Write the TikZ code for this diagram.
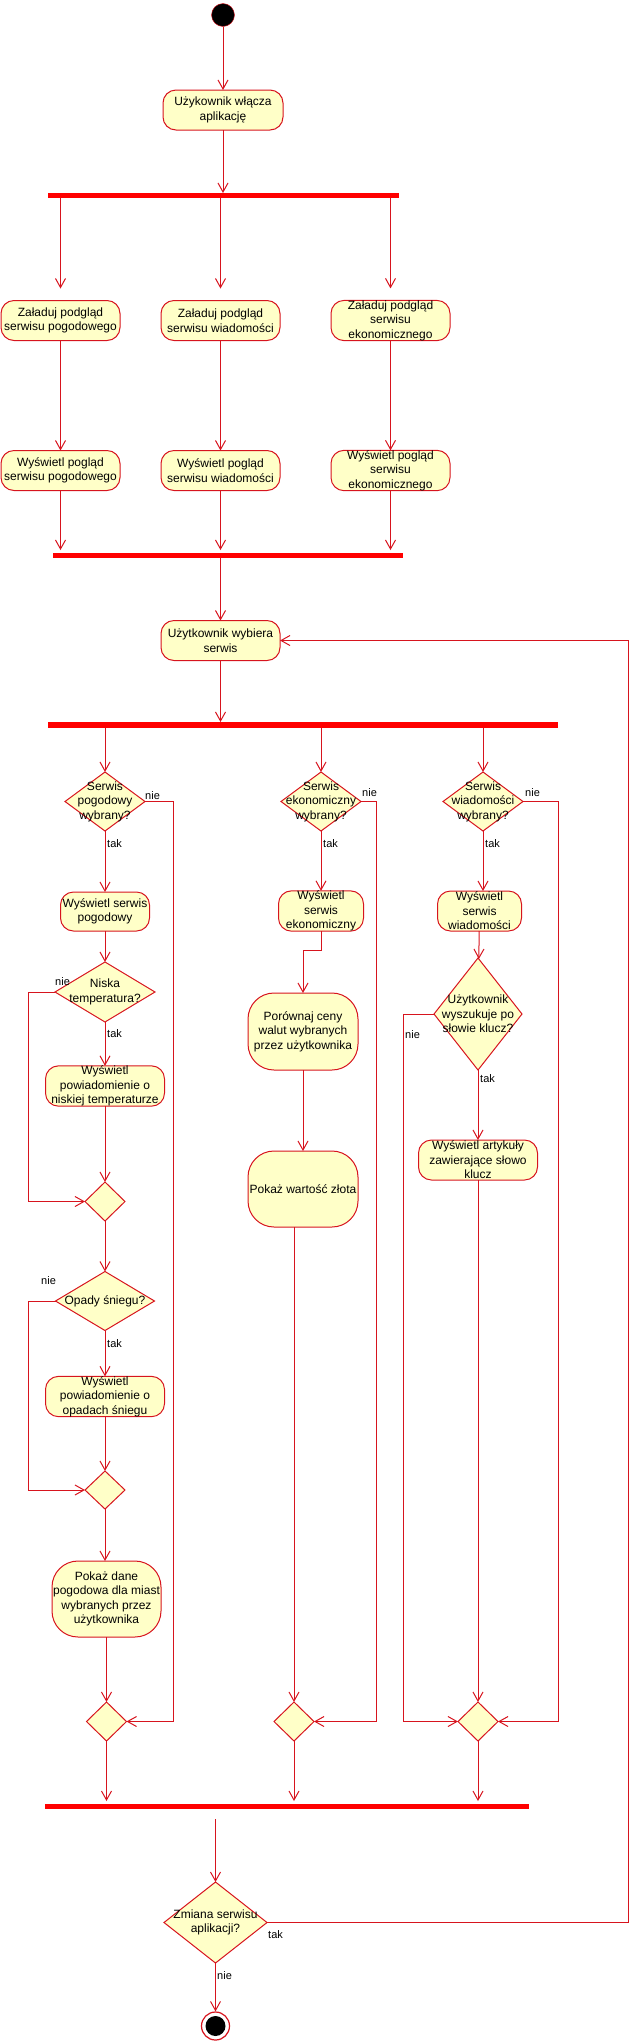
\documentclass[tikz,border=0pt]{standalone}
\usepackage{fontspec}
\setmainfont{Liberation Sans}
\usetikzlibrary{shapes.geometric,arrows.meta}
\definecolor{umlred}{RGB}{215,20,30}
\definecolor{umlfill}{RGB}{255,255,200}
\definecolor{barred}{RGB}{255,0,0}

\begin{document}
\begin{tikzpicture}[x=1pt,y=-1pt,
    act/.style={draw=umlred,line width=1pt,fill=umlfill,rounded corners=13pt,align=center,inner sep=0pt,outer sep=0pt,
      minimum height=40pt,font=\fontsize{12}{14.5}\selectfont},
    bigact/.style={act,rounded corners=26pt},
    dec/.style={diamond,draw=umlred,line width=1pt,fill=umlfill,inner sep=0pt,outer sep=0pt},
    dtext/.style={align=center,inner sep=0pt,font=\fontsize{12}{14.5}\selectfont},
    bar/.style={fill=barred,inner sep=0pt,outer sep=0pt},
    flow/.style={draw=umlred,line width=1pt,-{Straight Barb[length=9pt,width=10pt]}},
    lbl/.style={anchor=west,inner sep=0pt,font=\fontsize{11}{13}\selectfont},
    start/.style={circle,draw=umlred,fill=black,minimum size=23pt,inner sep=0pt},
    finish/.style={circle,draw=umlred,line width=1.2pt,fill=white,minimum size=28pt,inner sep=0pt,
      path picture={\fill[black] (path picture bounding box.center) circle (10pt);}}]
    \useasboundingbox (0,0) rectangle (639,2043);

    % start and loading of previews
    \node[start] (start) at (223,15) {};
    \node[act,minimum width=120pt] (a1) at (223,110) {Użykownik włącza\\aplikację};
    \node[bar,minimum width=351pt,minimum height=5pt] (bar1) at (223.5,195.5) {};
    \node[act,minimum width=119pt] (l1) at (60.5,320.5) {Załaduj podgląd\\serwisu pogodowego};
    \node[act,minimum width=119pt] (m1) at (220.5,320.5) {Załaduj podgląd\\serwisu wiadomości};
    \node[act,minimum width=119pt] (r1) at (390.5,320.5) {Załaduj podgląd\\serwisu\\ekonomicznego};
    \node[act,minimum width=119pt] (l2) at (60.5,470.5) {Wyświetl pogląd\\serwisu pogodowego};
    \node[act,minimum width=119pt] (m2) at (220.5,470.5) {Wyświetl pogląd\\serwisu wiadomości};
    \node[act,minimum width=119pt] (r2) at (390.5,470.5) {Wyświetl pogląd\\serwisu\\ekonomicznego};
    \node[bar,minimum width=350pt,minimum height=5pt] (bar2) at (228,555.5) {};
    \node[act,minimum width=119pt] (a2) at (220.5,640.5) {Użytkownik wybiera\\serwis};
    \node[bar,minimum width=510pt,minimum height=6pt] (bar3) at (303,725) {};

    % weather service
    \node[dec,minimum width=80pt,minimum height=59pt] (d1) at (105,801.5) {};
    \node[dtext] (d1t) at (d1) {Serwis\\pogodowy\\wybrany?};
    \node[act,minimum width=89pt,minimum height=39pt] (b1) at (105,911.5) {Wyświetl serwis\\pogodowy};
    \node[dec,minimum width=100pt,minimum height=60pt] (d4) at (105,992) {};
    \node[dtext] (d4t) at (d4) {Niska\\temperatura?};
    \node[act,minimum width=119pt] (b4) at (105,1086) {Wyświetl\\powiadomienie o\\niskiej temperaturze};
    \node[dec,minimum width=40pt,minimum height=39pt] (ml1) at (105,1201.5) {};
    \node[dec,minimum width=99pt,minimum height=59pt] (d5) at (105,1301) {};
    \node[dtext] (d5t) at (d5) {Opady śniegu?};
    \node[act,minimum width=119pt,minimum height=39pt] (b5) at (105,1396.5) {Wyświetl\\powiadomienie o\\opadach śniegu};
    \node[dec,minimum width=40pt,minimum height=38pt] (ml2) at (105,1490) {};
    \node[bigact,minimum width=109pt,minimum height=76pt] (b6) at (106.5,1599) {Pokaż dane\\pogodowa dla miast\\wybranych przez\\użytkownika};
    \node[dec,minimum width=40pt,minimum height=39pt] (mj1) at (106.5,1721.5) {};

    % economy service
    \node[dec,minimum width=80pt,minimum height=59pt] (d2) at (321,801.5) {};
    \node[dtext] (d2t) at (d2) {Serwis\\ekonomiczny\\wybrany?};
    \node[act,minimum width=85pt] (b2) at (321,911) {Wyświetl\\serwis\\ekonomiczny};
    \node[bigact,minimum width=110pt,minimum height=77pt] (b7) at (303,1031.5) {Porównaj ceny\\walut wybranych\\przez użytkownika};
    \node[bigact,minimum width=110pt,minimum height=76pt] (b8) at (303,1189) {Pokaż wartość złota};
    \node[dec,minimum width=40pt,minimum height=39pt] (mj2) at (294,1721.5) {};

    % news service
    \node[dec,minimum width=80pt,minimum height=59pt] (d3) at (483,801.5) {};
    \node[dtext] (d3t) at (d3) {Serwis\\wiadomości\\wybrany?};
    \node[act,minimum width=84pt] (b3) at (479.5,911) {Wyświetl\\serwis\\wiadomości};
    \node[dec,minimum width=88pt,minimum height=112pt] (d6) at (478,1014) {};
    \node[dtext] (d6t) at (d6) {Użytkownik\\wyszukuje po\\słowie klucz?};
    \node[act,minimum width=119pt] (b9) at (478,1160) {Wyświetl artykuły\\zawierające słowo\\klucz};
    \node[dec,minimum width=40pt,minimum height=39pt] (mj3) at (478,1721.5) {};

    % end
    \node[bar,minimum width=483.5pt,minimum height=5pt] (bar4) at (286.75,1806.5) {};
    \node[dec,minimum width=103pt,minimum height=81pt] (d7) at (215.5,1922.5) {};
    \node[dtext] (d7t) at (d7) {Zmiana serwisu\\aplikacji?};
    \node[finish] (end) at (215.5,2026) {};
    \coordinate (back) at (628,1922.5);

    % labels
    \node[lbl] (d1nie) at (145,796) {nie};
    \node[lbl] (d1tak) at (107,844) {tak};
    \node[lbl] (d2nie) at (362,792.5) {nie};
    \node[lbl] (d2tak) at (323,844) {tak};
    \node[lbl] (d3nie) at (525,792.5) {nie};
    \node[lbl] (d3tak) at (485,844) {tak};
    \node[lbl] (d4nie) at (55,982) {nie};
    \node[lbl] (d4tak) at (107,1034) {tak};
    \node[lbl] (d5nie) at (41,1281) {nie};
    \node[lbl] (d5tak) at (107,1344) {tak};
    \node[lbl] (d6nie) at (405,1035) {nie};
    \node[lbl] (d6tak) at (480,1079) {tak};
    \node[lbl] (d7tak) at (268,1935) {tak};
    \node[lbl] (d7nie) at (217,1976) {nie};

    % flows
    \draw[flow] (start) -- (a1);
    \draw[flow] (a1) -- (a1 |- bar1.north);
    \draw[flow,shorten >=12pt] (bar1.south -| l1) -- (l1.north);
    \draw[flow,shorten >=12pt] (bar1.south -| m1) -- (m1.north);
    \draw[flow,shorten >=12pt] (bar1.south -| r1) -- (r1.north);
    \draw[flow] (l1) -- (l2);
    \draw[flow] (m1) -- (m2);
    \draw[flow] (r1) -- (r2);
    \draw[flow,shorten >=3pt] (l2) -- (l2 |- bar2.north);
    \draw[flow,shorten >=3pt] (m2) -- (m2 |- bar2.north);
    \draw[flow,shorten >=3pt] (r2) -- (r2 |- bar2.north);
    \draw[flow] (bar2.south -| a2) -- (a2);
    \draw[flow] (a2) -- (a2 |- bar3.north);
    \draw[flow] (bar3.south -| d1) -- (d1);
    \draw[flow] (bar3.south -| d2) -- (d2);
    \draw[flow] (bar3.south -| d3) -- (d3);

    \draw[flow] (d1) -- (b1);
    \draw[flow] (b1) -- (d4);
    \draw[flow] (d4) -- (b4);
    \draw[flow] (b4) -- (ml1);
    \draw[flow] (d4.west) -- ++(-27,0) |- (ml1.west);
    \draw[flow] (ml1) -- (d5);
    \draw[flow] (d5) -- (b5);
    \draw[flow] (b5) -- (ml2);
    \draw[flow] (d5.west) -- ++(-27,0) |- (ml2.west);
    \draw[flow] (ml2) -- (ml2 |- b6.north);
    \draw[flow] (b6) -- (mj1);
    \draw[flow] (d1.east) -- ++(28,0) |- (mj1.east);

    \draw[flow] (d2) -- (b2);
    \draw[flow] (b2.south) -- ++(0,19) -| (b7.north);
    \draw[flow] (b7) -- (b8);
    \draw[flow] (b8.south -| mj2) -- (mj2.north);
    \draw[flow] (d2.east) -- ++(15,0) |- (mj2.east);

    \draw[flow] (d3) -- (d3 |- b3.north);
    \draw[flow] (b3) -- (d6);
    \draw[flow] (d6) -- (b9);
    \draw[flow] (b9) -- (mj3);
    \draw[flow] (d6.west) -- ++(-31,0) |- (mj3.west);
    \draw[flow] (d3.east) -- ++(35,0) |- (mj3.east);

    \draw[flow,shorten >=3pt] (mj1) -- (mj1 |- bar4.north);
    \draw[flow,shorten >=3pt] (mj2) -- (mj2 |- bar4.north);
    \draw[flow,shorten >=3pt] (mj3) -- (mj3 |- bar4.north);
    \draw[flow,shorten <=10pt] (bar4.south -| d7) -- (d7.north);
    \draw[flow] (d7.east) -- (back) |- (a2.east);
    \draw[flow] (d7) -- (end);
\end{tikzpicture}
\end{document}
